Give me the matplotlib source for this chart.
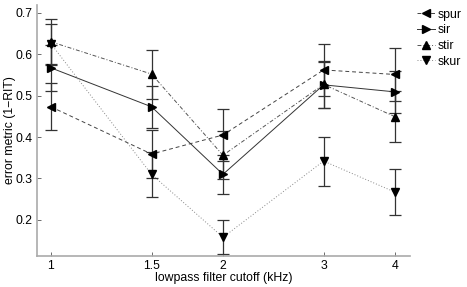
import matplotlib
matplotlib.use("Agg")
import matplotlib.pyplot as plt
import numpy as np

plt.rcParams['font.family'] = ['Liberation Sans', 'DejaVu Sans']

cutoffs = [1, 1.5, 2, 3, 4]
xticklabels = ['1', '1.5', '2', '3', '4']
series_names = ['spur', 'sir', 'stir', 'skur']
spur = [0.473, 0.359, 0.405, 0.562, 0.551]
spur_err = [0.057, 0.058, 0.063, 0.063, 0.064]
sir = [0.567, 0.473, 0.310, 0.526, 0.509]
sir_err = [0.055, 0.050, 0.047, 0.056, 0.050]
stir = [0.630, 0.552, 0.356, 0.527, 0.449]
stir_err = [0.055, 0.059, 0.058, 0.057, 0.062]
skur = [0.625, 0.310, 0.158, 0.342, 0.267]
skur_err = [0.048, 0.055, 0.041, 0.059, 0.055]

FS = 8.8

fig = plt.figure(figsize=(4.67, 2.87), dpi=100)
ax = fig.add_axes([0.079, 0.109, 0.799, 0.874])

styles = [
    (spur, spur_err, '<', (0, (4, 3)), '#444444'),
    (sir, sir_err, '>', '-', '#333333'),
    (stir, stir_err, '^', (0, (4, 2, 1, 2)), '#555555'),
    (skur, skur_err, 'v', (0, (1, 2)), '#888888'),
]
handles = []
for (vals, err, mk, ls, lc), name in zip(styles, series_names):
    ax.errorbar(cutoffs, vals, yerr=err, fmt='none', ecolor='#333333',
                elinewidth=0.9, capsize=4, capthick=0.9, zorder=2)
    ln, = ax.plot(cutoffs, vals, color=lc, linestyle=ls, linewidth=0.7,
                  marker=mk, markersize=6, markerfacecolor='black',
                  markeredgecolor='black', label=name, zorder=3)
    handles.append(ln)

ax.set_xscale('log')
ax.set_xlim(0.945, 4.25)
ax.set_ylim(0.1136, 0.719)
ax.set_xticks(cutoffs)
ax.set_xticklabels(xticklabels)
ax.xaxis.set_minor_locator(matplotlib.ticker.NullLocator())
ax.set_yticks([0.2, 0.3, 0.4, 0.5, 0.6, 0.7])
ax.set_yticklabels(['0.2', '0.3', '0.4', '0.5', '0.6', '0.7'])
ax.tick_params(direction='in', length=3, width=0.6, labelsize=FS, color='#555555', pad=3)

for s in ['top', 'right']:
    ax.spines[s].set_visible(False)
for s in ['left', 'bottom']:
    ax.spines[s].set_color('#aaaaaa')
    ax.spines[s].set_linewidth(1.2)

ax.set_xlabel('lowpass filter cutoff (kHz)', fontsize=FS, labelpad=0)
ax.set_ylabel('error metric (1\u2212RIT)', fontsize=FS)
ax.yaxis.set_label_coords(-0.056, 0.5)

fig.legend(handles=handles, loc='upper left', bbox_to_anchor=(0.893, 0.97),
           frameon=False, fontsize=FS, handlelength=1.5, handletextpad=0.2,
           labelspacing=0.3, borderaxespad=0, borderpad=0, markerscale=0.9)

fig.savefig('out.png', dpi=100)
